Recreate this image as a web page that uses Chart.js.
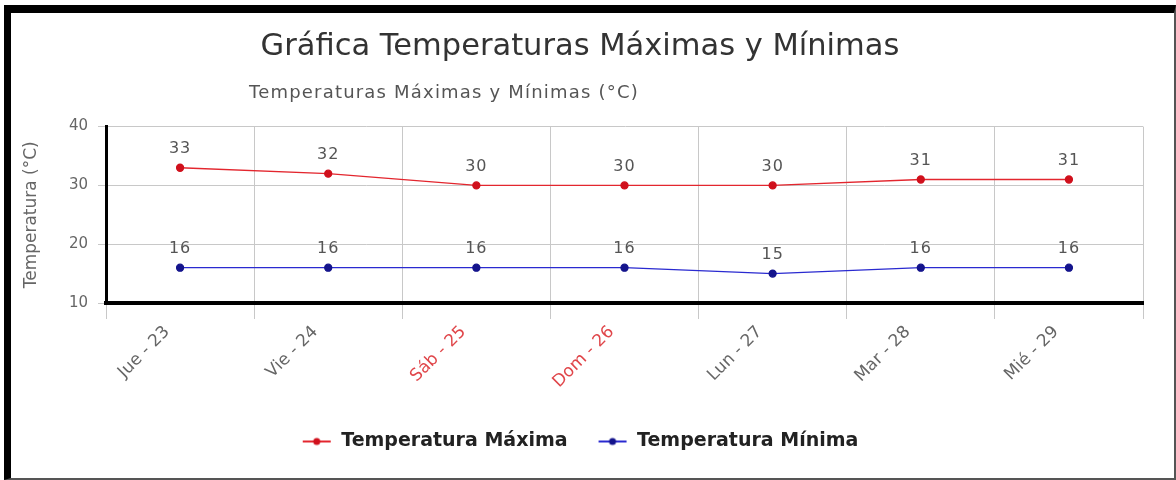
<!DOCTYPE html>
<html>
<head>
<meta charset="utf-8">
<script src="https://cdn.jsdelivr.net/npm/chart.js@4"></script>
<style>
    html, body { margin: 0; padding: 0; background: #fff; }
    #frame {
        position: absolute;
        left: 4px;
        top: 5px;
        width: 1163px;
        height: 465px;
        border-left: 7px solid #000;
        border-top: 8px solid #000;
        border-right: 2px solid #555;
        border-bottom: 2px solid #555;
    }
    #chart { display: block; }
</style>
</head>
<body>
<div id="frame"><canvas id="chart" width="1163" height="465"></canvas></div>
<script>
// Chart data
const days = ['Jue - 23', 'Vie - 24', 'Sáb - 25', 'Dom - 26', 'Lun - 27', 'Mar - 28', 'Mié - 29'];
const weekend = [false, false, true, true, false, false, false];
const tempMax = [33, 32, 30, 30, 30, 31, 31];
const tempMin = [16, 16, 16, 16, 15, 16, 16];
const yTicks = [10, 20, 30, 40];

const chartTitle = 'Gráfica Temperaturas Máximas y Mínimas';
const chartSubtitle = 'Temperaturas Máximas y Mínimas (°C)';
const yTitle = 'Temperatura (°C)';

const FONT = '"DejaVu Sans", Verdana, sans-serif';

// Legend marker: short line with a dot
function legendMarker(lineColor, dotColor) {
    const c = document.createElement('canvas');
    c.width = 30;
    c.height = 10;
    const g = c.getContext('2d');
    g.strokeStyle = lineColor;
    g.lineWidth = 2;
    g.beginPath();
    g.moveTo(1, 5);
    g.lineTo(29, 5);
    g.stroke();
    g.fillStyle = dotColor;
    g.beginPath();
    g.arc(15, 5, 3.5, 0, Math.PI * 2);
    g.fill();
    return c;
}

// Value labels above each point + left-offset subtitle
const valueLabels = {
    id: 'valueLabels',
    afterDatasetsDraw(chart) {
        const ctx = chart.ctx;
        ctx.save();
        ctx.font = '16px ' + FONT;
        ctx.letterSpacing = '1px';
        ctx.fillStyle = '#555';
        ctx.textAlign = 'center';
        ctx.textBaseline = 'middle';
        chart.data.datasets.forEach((ds, i) => {
            chart.getDatasetMeta(i).data.forEach((pt, j) => {
                ctx.fillText(ds.data[j], pt.x, pt.y - 19);
            });
        });
        ctx.restore();
    },
    afterDraw(chart) {
        const ctx = chart.ctx;
        ctx.save();
        ctx.font = '18px ' + FONT;
        ctx.letterSpacing = '1.2px';
        ctx.fillStyle = '#555';
        ctx.textAlign = 'left';
        ctx.textBaseline = 'middle';
        ctx.fillText(chartSubtitle, 238, 80);
        ctx.restore();
    }
};

const markers = [legendMarker('#e3262e', '#d0101c'), legendMarker('#2a2ad0', '#14148c')];

const ctx = document.getElementById('chart').getContext('2d');
new Chart(ctx, {
    type: 'line',
    data: {
        labels: days,
        datasets: [{
            label: 'Temperatura Máxima',
            data: tempMax,
            borderColor: '#e3262e',
            borderWidth: 1.3,
            pointBackgroundColor: '#d0101c',
            pointBorderColor: '#d0101c',
            pointRadius: 3.5,
            tension: 0
        }, {
            label: 'Temperatura Mínima',
            data: tempMin,
            borderColor: '#2a2ad0',
            borderWidth: 1.3,
            pointBackgroundColor: '#14148c',
            pointBorderColor: '#14148c',
            pointRadius: 3.5,
            tension: 0
        }]
    },
    options: {
        responsive: false,
        animation: false,
        layout: { padding: { left: 6, right: 31, top: 0, bottom: 17 } },
        plugins: {
            title: {
                display: true,
                text: chartTitle,
                color: '#333',
                font: { family: FONT, size: 30.5, weight: 'normal' },
                padding: { top: 16, bottom: 61 }
            },
            legend: {
                position: 'bottom',
                labels: {
                    usePointStyle: true,
                    pointStyleWidth: 30,
                    color: '#222',
                    padding: 30,
                    font: { family: FONT, size: 19, weight: 'bold' },
                    generateLabels(chart) {
                        const items = Chart.defaults.plugins.legend.labels.generateLabels(chart);
                        items.forEach((it, i) => { it.pointStyle = markers[i]; });
                        return items;
                    }
                }
            },
            tooltip: { enabled: false }
        },
        scales: {
            x: {
                offset: true,
                grid: { offset: true, color: '#c8c8c8', tickLength: 16, lineWidth: 1 },
                border: { display: true, color: '#000', width: 4 },
                ticks: {
                    minRotation: 45,
                    maxRotation: 45,
                    padding: 3,
                    labelOffset: -13,
                    font: { family: FONT, size: 17 },
                    color: (c) => weekend[c.index] ? '#e0464a' : '#666'
                },
                afterFit(scale) { scale.height = 99; }
            },
            y: {
                min: yTicks[0],
                max: yTicks[yTicks.length - 1],
                afterBuildTicks(scale) { scale.ticks = yTicks.map(v => ({ value: v })); },
                grid: { color: '#c8c8c8', tickLength: 8 },
                border: { display: true, color: '#000', width: 3 },
                ticks: {
                    padding: 10,
                    font: { family: FONT, size: 15 },
                    color: '#666'
                },
                title: {
                    display: true,
                    text: yTitle,
                    color: '#666',
                    font: { family: FONT, size: 17 },
                    padding: { top: 4, bottom: 4 }
                },
                afterFit(scale) { scale.width = 89; }
            }
        }
    },
    plugins: [valueLabels]
});
</script>
</body>
</html>
